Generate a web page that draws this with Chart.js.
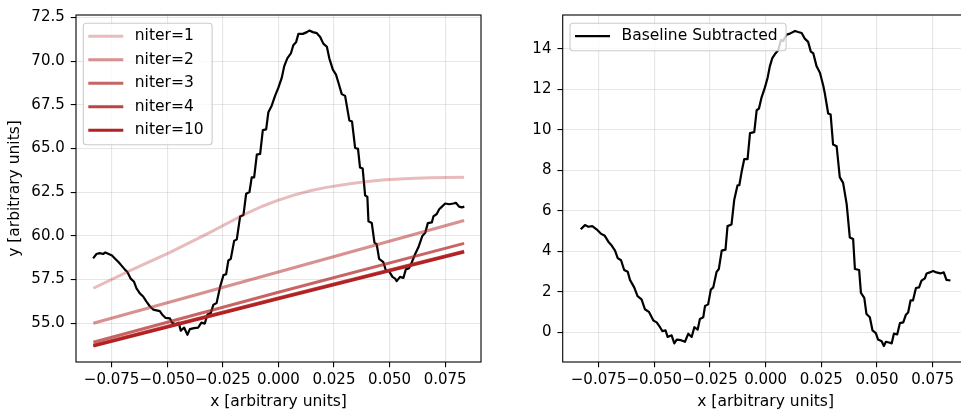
<!DOCTYPE html>
<html><head><meta charset="utf-8">
<script src="https://cdn.jsdelivr.net/npm/chart.js@4.4.0/dist/chart.umd.min.js"></script>
<style>
html,body{margin:0;padding:0;background:#fff;overflow:hidden;width:961px;height:416px;position:relative;}
#c1{position:absolute;left:0;top:0;}
#c2{position:absolute;left:485px;top:0;}
</style></head><body>
<canvas id="c1" width="485" height="416"></canvas>
<canvas id="c2" width="490" height="416"></canvas>
<script>
// ---- tick values ----
const xTicks = [-0.075, -0.05, -0.025, 0, 0.025, 0.05, 0.075];
const leftYTicks = [55, 57.5, 60, 62.5, 65, 67.5, 70, 72.5];
const rightYTicks = [0, 2, 4, 6, 8, 10, 12, 14];

// ---- raw data (left panel) ----
const rawX = [-0.0833,-0.0818,-0.0803,-0.0788,-0.0778,-0.0763,-0.0748,-0.0733,-0.0718,-0.0706,-0.0691,-0.0679,-0.0664,-0.0649,-0.0638,-0.0623,-0.0608,-0.0594,-0.0578,-0.0563,-0.0533,-0.0523,-0.0508,-0.0488,-0.0478,-0.0463,-0.0448,-0.0439,-0.0424,-0.0409,-0.0398,-0.0379,-0.0361,-0.0346,-0.0331,-0.0319,-0.0304,-0.0292,-0.0278,-0.0262,-0.0247,-0.0235,-0.0225,-0.0214,-0.0199,-0.0187,-0.0172,-0.0157,-0.0145,-0.0130,-0.0120,-0.0109,-0.0097,-0.0082,-0.0070,-0.0055,-0.0045,-0.0030,-0.0015,0.0000,0.0015,0.0026,0.0040,0.0056,0.0067,0.0080,0.0090,0.0110,0.0128,0.0139,0.0155,0.0173,0.0188,0.0202,0.0218,0.0229,0.0245,0.0259,0.0270,0.0285,0.0300,0.0319,0.0331,0.0345,0.0358,0.0367,0.0379,0.0390,0.0400,0.0405,0.0420,0.0432,0.0442,0.0453,0.0472,0.0483,0.0498,0.0513,0.0525,0.0532,0.0547,0.0562,0.0573,0.0588,0.0600,0.0615,0.0629,0.0647,0.0660,0.0672,0.0690,0.0697,0.0712,0.0723,0.0732,0.0750,0.0768,0.0787,0.0798,0.0813,0.0825,0.0836];
const rawY = [58.71,58.96,59.01,58.96,59.05,58.96,58.87,58.68,58.49,58.31,58.08,57.93,57.55,57.37,56.99,56.71,56.53,56.25,55.97,55.78,55.69,55.50,55.31,55.28,55.03,54.94,55.03,54.57,54.75,54.34,54.66,54.72,54.75,55.03,54.98,55.50,55.59,56.06,56.15,57.09,57.75,57.80,58.59,58.68,59.71,59.80,61.11,61.20,62.41,62.51,63.35,63.35,64.65,64.69,66.05,66.09,67.08,67.45,68.01,68.48,69.04,69.70,70.16,70.44,70.91,71.10,71.56,71.56,71.66,71.75,71.66,71.60,71.38,71.00,70.82,70.16,69.51,69.23,68.76,68.11,68.01,66.61,66.55,65.03,64.98,63.91,63.85,62.32,62.23,60.83,60.73,59.61,59.52,58.68,58.49,58.03,57.97,57.65,57.55,57.41,57.65,57.59,58.08,58.15,58.49,58.96,59.33,59.99,60.17,60.73,60.77,61.11,61.25,61.52,61.63,61.85,61.81,61.85,61.89,61.67,61.63,61.67];

// ---- baselines (left panel) ----
const niterLabels = ['niter=1', 'niter=2', 'niter=3', 'niter=4', 'niter=10'];
const niter1X = [-0.0832,-0.0667,-0.0487,-0.0307,-0.0150,-0.0075,-0.0006,0.0070,0.0143,0.0210,0.0277,0.0345,0.0412,0.0480,0.0547,0.0615,0.0682,0.0835];
const niter1Y = [57.00,58.01,59.05,60.20,61.25,61.68,62.02,62.33,62.58,62.76,62.90,63.03,63.13,63.21,63.26,63.30,63.32,63.35];
const lineX = [-0.0832, 0.0, 0.0835];
const niter2Y = [55.00, 57.93, 60.88];
const niter3Y = [53.91, 56.77, 59.57];
const niter4Y = [53.74, 56.45, 59.12];
const niter10Y = [53.70, 56.40, 59.08];

// ---- baseline subtracted (right panel) ----
const subX = [-0.0830,-0.0811,-0.0796,-0.0778,-0.0759,-0.0740,-0.0722,-0.0706,-0.0691,-0.0676,-0.0664,-0.0649,-0.0635,-0.0619,-0.0609,-0.0590,-0.0575,-0.0557,-0.0542,-0.0524,-0.0504,-0.0489,-0.0474,-0.0464,-0.0449,-0.0440,-0.0422,-0.0410,-0.0399,-0.0380,-0.0362,-0.0347,-0.0332,-0.0320,-0.0305,-0.0295,-0.0280,-0.0272,-0.0258,-0.0246,-0.0235,-0.0220,-0.0210,-0.0197,-0.0180,-0.0171,-0.0153,-0.0141,-0.0126,-0.0118,-0.0108,-0.0096,-0.0081,-0.0070,-0.0051,-0.0040,-0.0030,-0.0018,-0.0003,0.0009,0.0019,0.0030,0.0045,0.0057,0.0069,0.0079,0.0094,0.0109,0.0132,0.0146,0.0162,0.0176,0.0191,0.0203,0.0214,0.0229,0.0244,0.0259,0.0266,0.0281,0.0292,0.0303,0.0319,0.0333,0.0348,0.0364,0.0378,0.0393,0.0401,0.0420,0.0428,0.0443,0.0453,0.0468,0.0480,0.0495,0.0505,0.0521,0.0531,0.0540,0.0558,0.0566,0.0576,0.0591,0.0603,0.0618,0.0630,0.0640,0.0651,0.0662,0.0675,0.0689,0.0700,0.0715,0.0723,0.0737,0.0752,0.0767,0.0785,0.0800,0.0812,0.0830];
const subY = [5.08,5.29,5.21,5.24,5.08,4.87,4.76,4.47,4.28,4.03,3.66,3.55,3.07,2.98,2.58,2.21,1.78,1.62,1.13,1.00,0.57,0.48,0.24,0.05,0.08,-0.24,-0.16,-0.56,-0.37,-0.40,-0.48,-0.08,-0.24,0.24,0.12,0.65,0.73,1.29,1.37,2.10,2.21,2.98,3.12,4.03,4.08,5.24,5.32,6.53,7.26,7.26,7.90,8.55,8.55,9.84,9.89,10.97,11.05,11.61,12.10,12.58,13.14,13.55,13.79,13.95,14.44,14.40,14.70,14.76,14.89,14.84,14.79,14.51,14.35,13.87,13.79,13.14,12.82,12.18,11.80,10.81,10.76,9.27,9.19,7.66,7.38,6.33,4.68,4.60,3.12,3.07,1.94,1.69,0.89,0.73,0.08,-0.05,-0.37,-0.45,-0.69,-0.48,-0.53,-0.56,-0.08,-0.11,0.44,0.48,0.86,0.97,1.57,1.57,2.18,2.21,2.54,2.66,2.90,2.95,3.02,2.95,2.90,2.95,2.58,2.55];

// ---- helpers ----
const FONT = 'DejaVu Sans';
const pts = (xs, ys) => xs.map((x, i) => ({x: x, y: ys[i]}));
const fmtX = v => (Math.abs(v) < 1e-12 ? 0 : v).toFixed(3).replace('-', '\u2212');
const gridOpts = {color: 'rgba(176,176,176,0.32)', lineWidth: 1.1, tickColor: '#000', tickLength: 5.25, tickWidth: 1.1, drawTicks: true};

const spines = {
  id: 'spines',
  afterDatasetsDraw(chart) {
    const {ctx, chartArea: ca} = chart;
    ctx.save();
    ctx.strokeStyle = '#000';
    ctx.lineWidth = 1.1;
    ctx.strokeRect(ca.left, ca.top, ca.right - ca.left, ca.bottom - ca.top);
    ctx.restore();
  }
};

const boxLegend = {
  id: 'boxLegend',
  afterDraw(chart, args, opts) {
    const ctx = chart.ctx, ca = chart.chartArea;
    const items = chart.data.datasets.filter(d => d.inLegend);
    if (!items.length) return;
    ctx.save();
    ctx.font = '15.5px "' + FONT + '"';
    const left = ca.left + 7.3, top = ca.top + 8.2;
    const textX = 51.5, rowH = 23.5, firstRow = 13;
    const maxW = Math.max(...items.map(d => ctx.measureText(d.label).width));
    const w = textX + maxW + 8.5;
    const h = firstRow + (items.length - 1) * rowH + 14.6;
    ctx.beginPath();
    ctx.roundRect(left, top, w, h, 3);
    ctx.fillStyle = 'rgba(255,255,255,0.8)';
    ctx.fill();
    ctx.strokeStyle = '#cccccc';
    ctx.lineWidth = 1.1;
    ctx.stroke();
    items.forEach((d, i) => {
      const y = top + firstRow + i * rowH;
      ctx.beginPath();
      ctx.moveTo(left + 5, y);
      ctx.lineTo(left + 40, y);
      ctx.strokeStyle = d.borderColor;
      ctx.lineWidth = d.borderWidth;
      ctx.lineCap = 'butt';
      ctx.stroke();
      ctx.fillStyle = '#000';
      ctx.textBaseline = 'middle';
      ctx.textAlign = 'left';
      ctx.fillText(d.label, left + textX, y);
    });
    ctx.restore();
  }
};

function xScale(xmin, xmax) {
  return {
    type: 'linear', min: xmin, max: xmax,
    afterBuildTicks: s => { s.ticks = xTicks.map(v => ({value: v})); },
    afterFit: s => { s.height = 54; },
    ticks: {callback: v => fmtX(v), font: {family: FONT, size: 15}, color: '#000', padding: 4, maxRotation: 0, autoSkip: false},
    grid: gridOpts,
    border: {display: false},
    title: {display: true, text: 'x [arbitrary units]', font: {family: FONT, size: 15.5}, color: '#000', padding: {top: 0, bottom: 4.7}}
  };
}
function yScale(ymin, ymax, ticksArr, width, fmt, title) {
  return {
    type: 'linear', min: ymin, max: ymax,
    afterBuildTicks: s => { s.ticks = ticksArr.map(v => ({value: v})); },
    afterFit: s => { s.width = width; },
    ticks: {callback: fmt, font: {family: FONT, size: 15}, color: '#000', padding: 6, autoSkip: false},
    grid: gridOpts,
    border: {display: false},
    title: title ? {display: true, text: title, font: {family: FONT, size: 15.5}, color: '#000', padding: {top: 6, bottom: 0}} : {display: false}
  };
}

const baseColors = ['rgba(178,34,34,0.3)', 'rgba(178,34,34,0.5)', 'rgba(178,34,34,0.7)', 'rgba(178,34,34,0.85)', 'rgba(178,34,34,1)'];
const baseData = [pts(niter1X, niter1Y), pts(lineX, niter2Y), pts(lineX, niter3Y), pts(lineX, niter4Y), pts(lineX, niter10Y)];

const leftDatasets = [{
  label: 'data', data: pts(rawX, rawY), borderColor: '#000', borderWidth: 2.2, order: 10, inLegend: false
}].concat(niterLabels.map((lab, i) => ({
  label: lab, data: baseData[i], borderColor: baseColors[i], borderWidth: 3, order: 5 - i, inLegend: true
})));

const common = {
  responsive: false, animation: false, devicePixelRatio: 1,
  elements: {point: {radius: 0}, line: {tension: 0, borderJoinStyle: 'round', borderCapStyle: 'butt', fill: false}},
  plugins: {legend: {display: false}, tooltip: {enabled: false}}
};

new Chart(document.getElementById('c1'), {
  type: 'line',
  data: {datasets: leftDatasets},
  options: Object.assign({}, common, {
    layout: {padding: {left: 0, top: 7.5, right: 4, bottom: 0}},
    scales: {
      x: xScale(-0.0910, 0.0911),
      y: yScale(52.78, 72.64, leftYTicks, 76, v => v.toFixed(1), 'y [arbitrary units]')
    }
  }),
  plugins: [spines, boxLegend]
});

new Chart(document.getElementById('c2'), {
  type: 'line',
  data: {datasets: [{label: 'Baseline Subtracted', data: pts(subX, subY), borderColor: '#000', borderWidth: 2.2, inLegend: true}]},
  options: Object.assign({}, common, {
    layout: {padding: {left: 0, top: 7.5, right: 6.5, bottom: 0}},
    scales: {
      x: xScale(-0.0911, 0.0911),
      y: yScale(-1.48, 15.68, rightYTicks, 77.7, v => String(Math.round(v)), null)
    }
  }),
  plugins: [spines, boxLegend]
});
</script>
</body></html>
